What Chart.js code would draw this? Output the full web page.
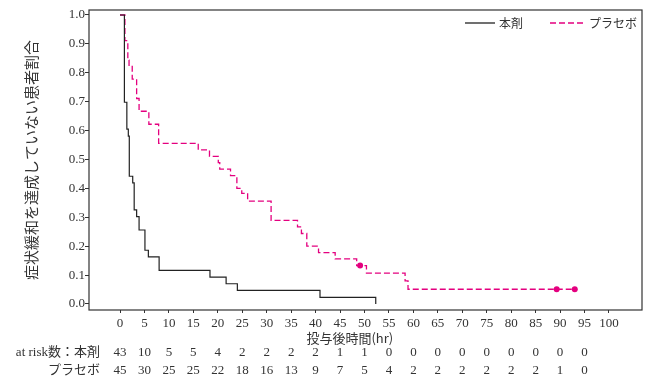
<!DOCTYPE html>
<html>
<head>
<meta charset="utf-8">
<script src="https://cdn.jsdelivr.net/npm/chart.js@4.4.1/dist/chart.umd.min.js"></script>
<style>
html, body { margin: 0; padding: 0; background: #fff; }
</style>
</head>
<body>
<canvas id="km" width="646" height="378"></canvas>
<script>
// 本剤 (n=43) KM step points
const drugTimes = [0, 0.9, 1.4, 1.7, 1.9, 2.6, 2.9, 3.4, 3.9, 5.1, 5.8, 8.0, 18.4, 21.7, 24.0, 40.9, 52.3];
const drugSurv  = [1.0, 0.698, 0.605, 0.581, 0.442, 0.419, 0.326, 0.302, 0.256, 0.186, 0.163, 0.116, 0.093, 0.070, 0.047, 0.023, 0.0];

// プラセボ (n=45) KM step points
const placeboTimes = [0, 1.0, 1.6, 1.85, 2.5, 3.4, 3.9, 5.9, 7.9, 16.0, 18.3, 20.1, 20.4, 22.6, 23.9, 24.9, 26.1, 30.9, 36.3, 37.1, 38.2, 40.6, 44.0, 48.4, 50.4, 58.3, 58.9, 93.0];
const placeboSurv  = [1.0, 0.911, 0.844, 0.822, 0.778, 0.711, 0.667, 0.622, 0.556, 0.533, 0.511, 0.489, 0.467, 0.444, 0.400, 0.383, 0.356, 0.289, 0.267, 0.244, 0.200, 0.178, 0.156, 0.133, 0.107, 0.080, 0.051, 0.051];
const placeboCensorT = [49.1, 89.3, 93.0];
const placeboCensorS = [0.133, 0.051, 0.051];

// axis ticks
const xTicks = [0, 5, 10, 15, 20, 25, 30, 35, 40, 45, 50, 55, 60, 65, 70, 75, 80, 85, 90, 95, 100];
const yTicks = [0, 0.1, 0.2, 0.3, 0.4, 0.5, 0.6, 0.7, 0.8, 0.9, 1.0];

// at risk table
const riskTimes   = [0, 5, 10, 15, 20, 25, 30, 35, 40, 45, 50, 55, 60, 65, 70, 75, 80, 85, 90, 95];
const riskDrug    = [43, 10, 5, 5, 4, 2, 2, 2, 2, 1, 1, 0, 0, 0, 0, 0, 0, 0, 0, 0];
const riskPlacebo = [45, 30, 25, 25, 22, 18, 16, 13, 9, 7, 5, 4, 2, 2, 2, 2, 2, 2, 1, 0];

const PINK = '#e4007f';
const INK = '#222';
const SERIF = '"Liberation Serif", "Noto Sans CJK JP", serif';
const CJK = '"Noto Sans CJK JP", "Liberation Serif", sans-serif';

function pts(xs, ys){
    return xs.map((t, i) => ({x: t, y: ys[i]}));
}

const framePlugin = {
    id: 'frame',
    beforeDatasetsDraw(chart){
        const {ctx, chartArea: a} = chart;
        ctx.save();
        ctx.strokeStyle = '#333';
        ctx.lineWidth = 1.2;
        ctx.strokeRect(a.left, a.top, a.right - a.left, a.bottom - a.top);
        ctx.restore();
    }
};

const legendPlugin = {
    id: 'innerLegend',
    afterDatasetsDraw(chart){
        const {ctx, chartArea: a} = chart;
        const y = a.top + 13;
        ctx.save();
        ctx.lineWidth = 1.3;
        ctx.strokeStyle = INK;
        ctx.beginPath(); ctx.moveTo(a.right - 177, y); ctx.lineTo(a.right - 147, y); ctx.stroke();
        ctx.strokeStyle = PINK;
        ctx.setLineDash([6, 3]);
        ctx.beginPath(); ctx.moveTo(a.right - 92, y); ctx.lineTo(a.right - 59, y); ctx.stroke();
        ctx.setLineDash([]);
        ctx.fillStyle = '#333';
        ctx.font = '12px ' + CJK;
        ctx.textBaseline = 'middle';
        ctx.textAlign = 'left';
        ctx.fillText(chart.data.datasets[0].label, a.right - 143, y);
        ctx.fillText(chart.data.datasets[1].label, a.right - 53, y);
        ctx.restore();
    }
};

const riskPlugin = {
    id: 'riskTable',
    afterDraw(chart){
        const {ctx, chartArea: a} = chart;
        const xs = chart.scales.x;
        ctx.save();
        ctx.fillStyle = '#333';
        ctx.textBaseline = 'middle';
        // x title
        ctx.font = '13px ' + CJK;
        ctx.textAlign = 'center';
        ctx.fillText('投与後時間(hr)', xs.getPixelForValue(47), a.bottom + 28);
        // row labels
        ctx.textAlign = 'right';
        ctx.font = '13px ' + SERIF;
        ctx.fillText('at risk数：本剤', 100, a.bottom + 43);
        ctx.fillText('プラセボ', 100, a.bottom + 61);
        ctx.textAlign = 'center';
        riskTimes.forEach((t, i) => {
            const x = xs.getPixelForValue(t);
            ctx.fillText(String(riskDrug[i]), x, a.bottom + 43);
            ctx.fillText(String(riskPlacebo[i]), x, a.bottom + 61);
        });
        ctx.restore();
    }
};

new Chart(document.getElementById('km'), {
    type: 'line',
    data: {
        datasets: [{
            label: '本剤',
            data: pts(drugTimes, drugSurv),
            borderColor: INK,
            borderWidth: 1.2,
            stepped: true,
            pointRadius: 0,
            fill: false
        }, {
            label: 'プラセボ',
            data: pts(placeboTimes, placeboSurv),
            borderColor: PINK,
            borderWidth: 1.3,
            borderDash: [6, 3],
            stepped: true,
            pointRadius: 0,
            fill: false
        }, {
            label: 'censor',
            data: pts(placeboCensorT, placeboCensorS),
            showLine: false,
            pointRadius: 3,
            pointBackgroundColor: PINK,
            pointBorderColor: PINK,
            pointBorderWidth: 0
        }]
    },
    options: {
        responsive: false,
        animation: false,
        layout: {padding: {left: 0, top: 10, right: 4, bottom: 0}},
        plugins: {
            legend: {display: false},
            tooltip: {enabled: false}
        },
        scales: {
            x: {
                type: 'linear',
                min: -6.34,
                max: 106.75,
                afterBuildTicks: s => { s.ticks = xTicks.map(v => ({value: v})); },
                afterFit: s => { s.height = 68; },
                border: {display: false},
                grid: {drawOnChartArea: false, drawTicks: true, tickLength: 3, color: '#333'},
                ticks: {
                    padding: 3,
                    maxRotation: 0,
                    autoSkip: false,
                    color: '#333',
                    font: {family: SERIF, size: 13},
                    callback: v => String(v)
                }
            },
            y: {
                type: 'linear',
                min: -0.0208,
                max: 1.0173,
                afterBuildTicks: s => { s.ticks = yTicks.map(v => ({value: v})); },
                afterFit: s => { s.width = 89; },
                border: {display: false},
                grid: {drawOnChartArea: false, drawTicks: true, tickLength: 4, color: '#333'},
                ticks: {
                    padding: 0,
                    color: '#333',
                    font: {family: SERIF, size: 13},
                    callback: v => v.toFixed(1)
                },
                title: {
                    display: true,
                    text: '症状緩和を達成していない患者割合',
                    color: '#333',
                    font: {family: CJK, size: 15},
                    padding: {top: 22, bottom: 0}
                }
            }
        }
    },
    plugins: [framePlugin, legendPlugin, riskPlugin]
});
</script>
</body>
</html>
